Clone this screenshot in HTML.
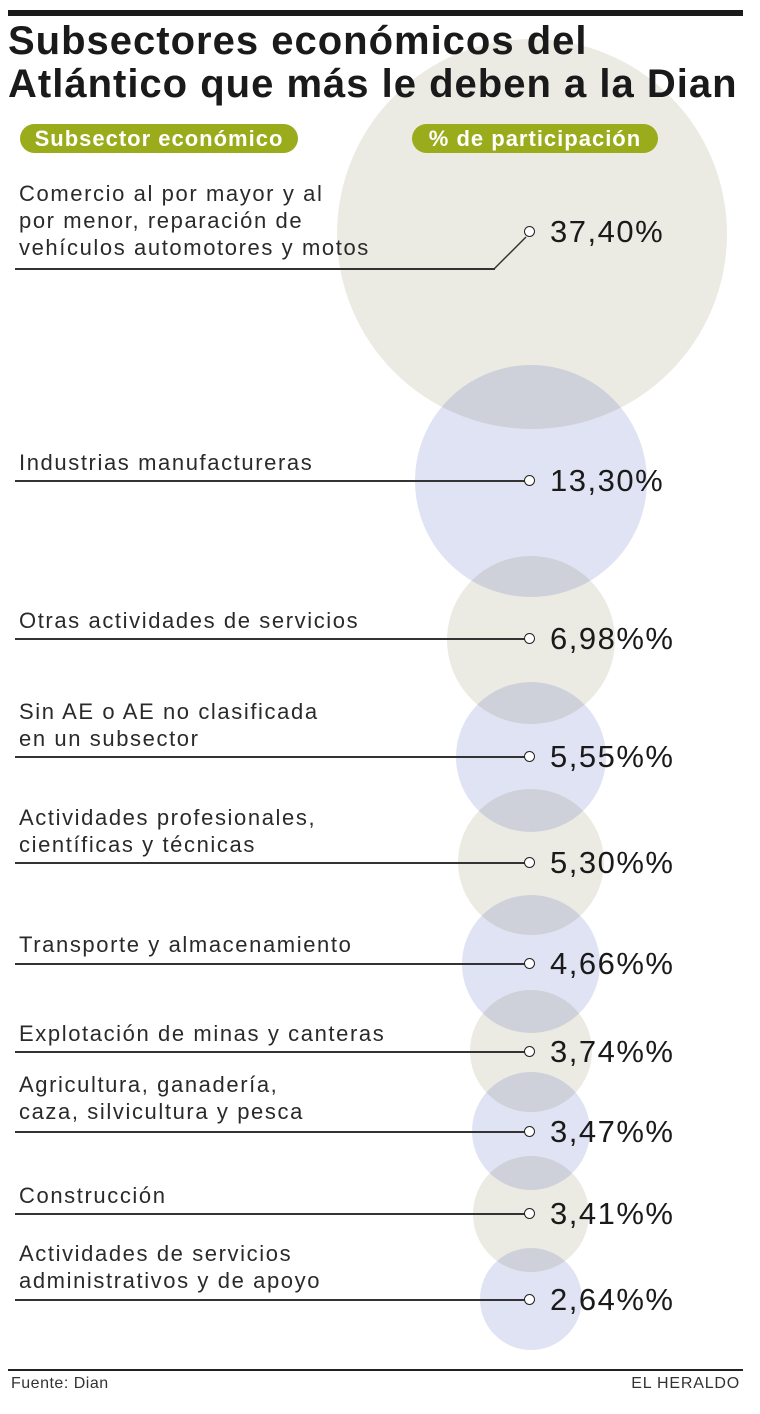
<!DOCTYPE html>
<html><head><meta charset="utf-8"><style>
body{margin:0;width:760px;height:1414px;background:#fff;position:relative;overflow:hidden;font-family:"Liberation Sans",sans-serif;color:#222}
.c{position:absolute;border-radius:50%;mix-blend-mode:multiply}
.b{background:#ebebe4}.u{background:#e0e3f3}
.t{position:absolute;left:8px;font-weight:bold;font-size:40px;letter-spacing:1px;color:#1a1a1a;line-height:43px;white-space:nowrap}
.pill{position:absolute;top:124px;height:29px;background:#9aab1b;border-radius:15px;color:#fff;font-weight:bold;font-size:22px;letter-spacing:1px;line-height:29px;text-align:center}
.l{position:absolute;left:19px;font-size:22px;line-height:27px;color:#2a2a2a;letter-spacing:1.6px;white-space:nowrap}
.ln{position:absolute;left:15px;height:1.5px;background:#333}
.d{position:absolute;left:524px;width:11px;height:11px;border:1.5px solid #222;border-radius:50%;background:#fff;box-sizing:border-box}
.v{position:absolute;left:550px;font-size:31px;letter-spacing:1.5px;color:#1a1a1a;line-height:30px}
</style></head><body>
<div style="position:absolute;left:8px;top:10px;width:735px;height:6px;background:#1a1a1a"></div>
<div class="c b" style="left:337px;top:39px;width:390px;height:390px"></div>
<div class="c u" style="left:415px;top:365px;width:232px;height:232px"></div>
<div class="c b" style="left:447px;top:556px;width:168px;height:168px"></div>
<div class="c u" style="left:456px;top:682px;width:150px;height:150px"></div>
<div class="c b" style="left:458px;top:789px;width:146px;height:146px"></div>
<div class="c u" style="left:462px;top:895px;width:138px;height:138px"></div>
<div class="c b" style="left:470px;top:990px;width:122px;height:122px"></div>
<div class="c u" style="left:472px;top:1072px;width:118px;height:118px"></div>
<div class="c b" style="left:473px;top:1156px;width:116px;height:116px"></div>
<div class="c u" style="left:480px;top:1248px;width:102px;height:102px"></div>
<div class="t" style="top:20px">Subsectores económicos del<br>Atlántico que más le deben a la Dian</div>
<div class="pill" style="left:20px;width:278px">Subsector económico</div>
<div class="pill" style="left:412px;width:246px">% de participación</div>
<div class="l" style="top:180px">Comercio al por mayor y al<br>por menor, reparación de<br>vehículos automotores y motos</div>
<div class="ln" style="top:268px;width:480px"></div>
<svg style="position:absolute;left:0;top:0" width="760" height="300"><line x1="494" y1="269" x2="526" y2="237" stroke="#333" stroke-width="1.5"/></svg>
<div class="l" style="top:449px">Industrias manufactureras</div>
<div class="l" style="top:607px">Otras actividades de servicios</div>
<div class="l" style="top:698px">Sin AE o AE no clasificada<br>en un subsector</div>
<div class="l" style="top:804px">Actividades profesionales,<br>científicas y técnicas</div>
<div class="l" style="top:931px">Transporte y almacenamiento</div>
<div class="l" style="top:1020px">Explotación de minas y canteras</div>
<div class="l" style="top:1071px">Agricultura, ganadería,<br>caza, silvicultura y pesca</div>
<div class="l" style="top:1182px">Construcción</div>
<div class="l" style="top:1240px">Actividades de servicios<br>administrativos y de apoyo</div>
<div class="ln" style="top:480px;width:510px"></div>
<div class="ln" style="top:638px;width:510px"></div>
<div class="ln" style="top:756px;width:510px"></div>
<div class="ln" style="top:862px;width:510px"></div>
<div class="ln" style="top:963px;width:510px"></div>
<div class="ln" style="top:1051px;width:510px"></div>
<div class="ln" style="top:1131px;width:510px"></div>
<div class="ln" style="top:1213px;width:510px"></div>
<div class="ln" style="top:1299px;width:510px"></div>
<div class="d" style="top:226px"></div><div class="v" style="top:217px">37,40%</div>
<div class="d" style="top:475px"></div><div class="v" style="top:466px">13,30%</div>
<div class="d" style="top:633px"></div><div class="v" style="top:624px">6,98%%</div>
<div class="d" style="top:751px"></div><div class="v" style="top:742px">5,55%%</div>
<div class="d" style="top:857px"></div><div class="v" style="top:848px">5,30%%</div>
<div class="d" style="top:958px"></div><div class="v" style="top:949px">4,66%%</div>
<div class="d" style="top:1046px"></div><div class="v" style="top:1037px">3,74%%</div>
<div class="d" style="top:1126px"></div><div class="v" style="top:1117px">3,47%%</div>
<div class="d" style="top:1208px"></div><div class="v" style="top:1199px">3,41%%</div>
<div class="d" style="top:1294px"></div><div class="v" style="top:1285px">2,64%%</div>
<div style="position:absolute;left:8px;top:1369px;width:735px;height:1.5px;background:#222"></div>
<div style="position:absolute;left:11px;top:1375px;font-size:16px;color:#333;letter-spacing:0.5px">Fuente: Dian</div>
<div style="position:absolute;right:20px;top:1375px;font-size:16px;color:#333;letter-spacing:0.8px">EL HERALDO</div>
</body></html>
